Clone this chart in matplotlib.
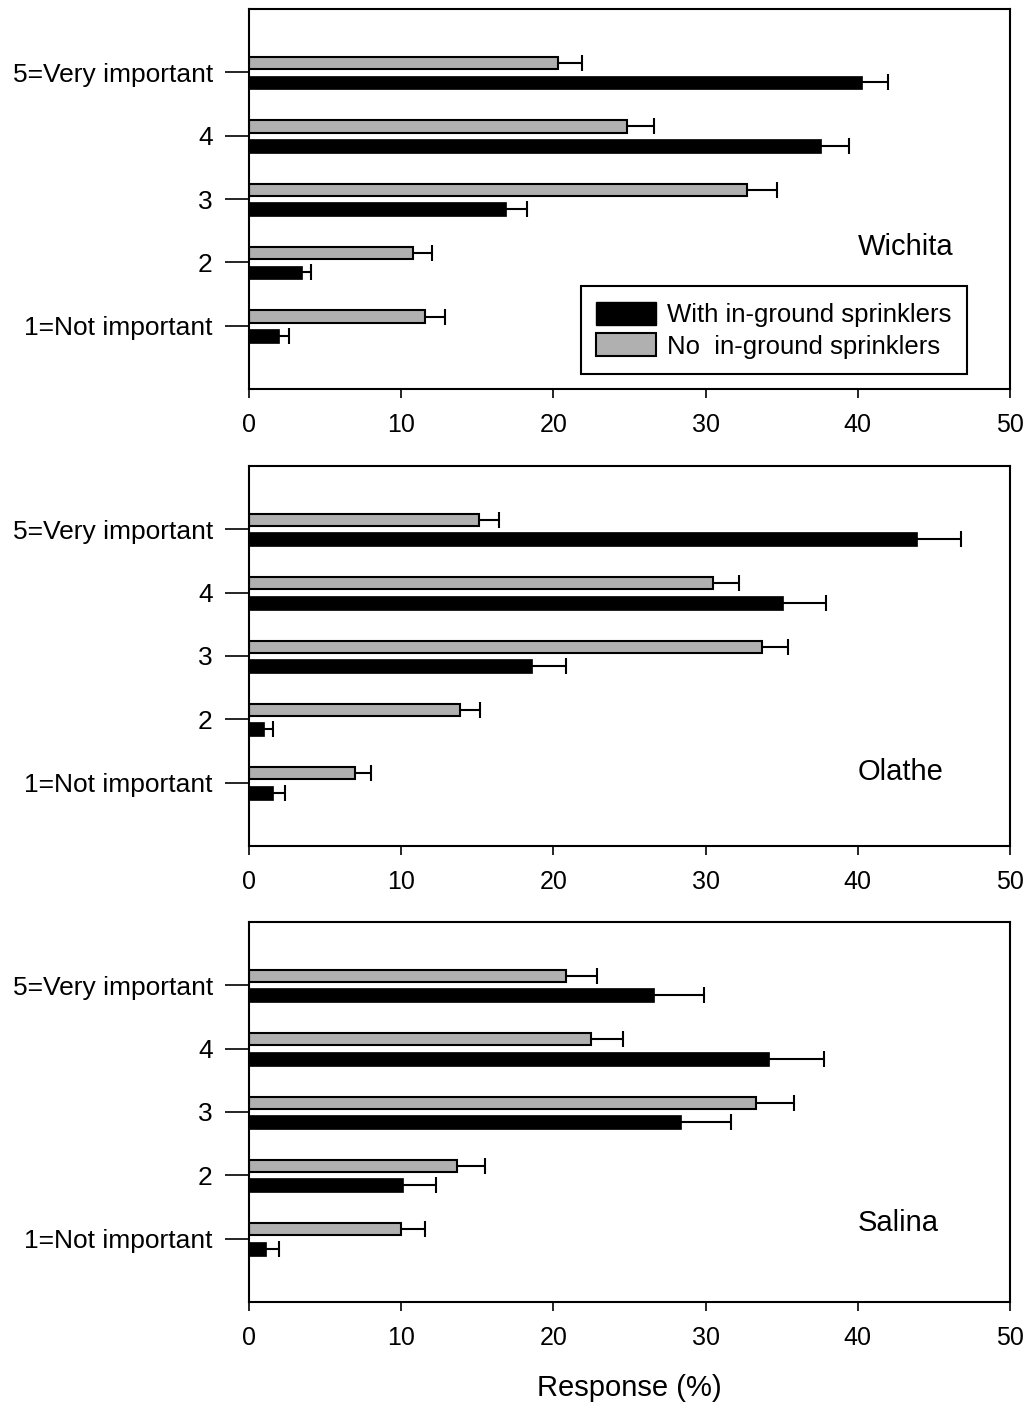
import numpy as np
import matplotlib
matplotlib.use('Agg')
import matplotlib.pyplot as plt
from matplotlib.patches import Patch

plt.rcParams['font.family'] = ['Liberation Sans', 'DejaVu Sans']

# importance categories, bottom to top
categories = ['1=Not important', '2', '3', '4', '5=Very important']
cities = ['Wichita', 'Olathe', 'Salina']

# percent responses, ordered 1..5
with_sprinklers = {
    'Wichita': [2.0, 3.5, 16.9, 37.6, 40.3],
    'Olathe':  [1.6, 1.0, 18.6, 35.1, 43.9],
    'Salina':  [1.1, 10.1, 28.4, 34.2, 26.6],
}
with_err = {
    'Wichita': [0.6, 0.6, 1.4, 1.8, 1.7],
    'Olathe':  [0.8, 0.6, 2.2, 2.8, 2.9],
    'Salina':  [0.9, 2.2, 3.3, 3.6, 3.3],
}
no_sprinklers = {
    'Wichita': [11.6, 10.8, 32.7, 24.85, 20.3],
    'Olathe':  [7.0, 13.9, 33.7, 30.5, 15.1],
    'Salina':  [10.0, 13.7, 33.3, 22.5, 20.8],
}
no_err = {
    'Wichita': [1.3, 1.2, 2.0, 1.75, 1.6],
    'Olathe':  [1.0, 1.3, 1.7, 1.7, 1.3],
    'Salina':  [1.6, 1.8, 2.5, 2.1, 2.1],
}
# where the city name sits (x, y in data units)
label_pos = {'Wichita': (40, 2.25), 'Olathe': (40, 1.17), 'Salina': (40, 1.25)}

GRAY = '#b0b0b0'
FS = 18

fig = plt.figure(figsize=(10.3, 14.06), dpi=100)
left, width, height = 0.2417, 0.7388, 0.2703
bottoms = [0.7233, 0.3983, 0.0740]

y = np.arange(1, len(categories) + 1)

for city, b in zip(cities, bottoms):
    ax = fig.add_axes([left, b, width, height])
    ws = np.array(with_sprinklers[city])
    we = np.array(with_err[city])
    ns = np.array(no_sprinklers[city])
    ne = np.array(no_err[city])

    ax.barh(y + 0.145, ns, height=0.19, color=GRAY, edgecolor='black', linewidth=1.5, zorder=2)
    ax.barh(y - 0.16, ws, height=0.22, color='black', edgecolor='black', linewidth=0.5, zorder=2)

    # one-sided error bars
    for yy, v, e in [(y + 0.145, ns, ne), (y - 0.16, ws, we)]:
        ax.hlines(yy, v, v + e, color='black', linewidth=1.5, zorder=1)
        ax.plot(v + e, yy, linestyle='none', marker='|', markersize=12,
                markeredgewidth=1.5, color='black', zorder=1)

    ax.set_xlim(0, 50)
    ax.set_ylim(0, 6)
    ax.set_xticks(np.arange(0, 51, 10))
    ax.set_yticks(y)
    ax.set_yticklabels(categories)
    ax.tick_params(axis='y', direction='out', length=17, width=1.2, pad=9, labelsize=19)
    ax.tick_params(axis='x', direction='out', length=6.5, width=1.2, pad=11, labelsize=FS)
    for s in ax.spines.values():
        s.set_linewidth(1.5)

    tx, ty = label_pos[city]
    ax.text(tx, ty, city, fontsize=21, ha='left', va='center')

    if city == 'Wichita':
        handles = [Patch(facecolor='black', edgecolor='black'),
                   Patch(facecolor=GRAY, edgecolor='black', linewidth=1.5)]
        leg = ax.legend(handles, ['With in-ground sprinklers', 'No  in-ground sprinklers'],
                        loc='lower right', bbox_to_anchor=(0.9435, 0.0395),
                        fontsize=18.5, fancybox=False, framealpha=1, edgecolor='black',
                        handlelength=2.3, handleheight=1.0, handletextpad=0.45,
                        labelspacing=0.25, borderpad=0.6, borderaxespad=0)
        leg.get_frame().set_linewidth(1.5)

fig.text(left + width / 2, 1 - 1388 / 1406, 'Response (%)', fontsize=21,
         ha='center', va='center')

fig.savefig('out.png', dpi=100)
